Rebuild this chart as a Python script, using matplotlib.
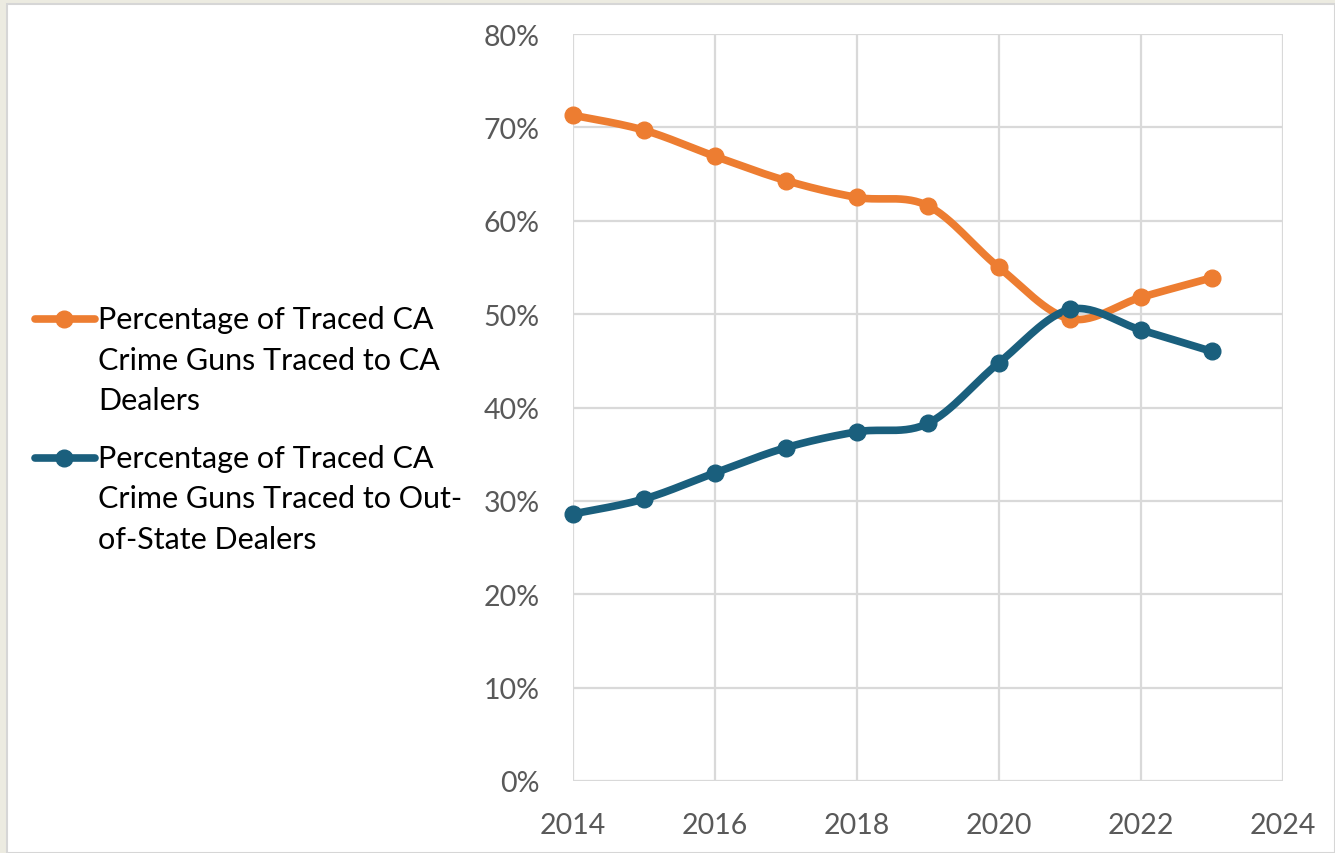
import numpy as np
import matplotlib
matplotlib.use("Agg")
import matplotlib.pyplot as plt
from matplotlib.lines import Line2D
from matplotlib.patches import Rectangle

years = [2014, 2015, 2016, 2017, 2018, 2019, 2020, 2021, 2022, 2023]
ca_dealers = [71.3, 69.7, 66.9, 64.3, 62.5, 61.6, 55.0, 49.5, 51.8, 53.9]
out_of_state = [28.6, 30.2, 33.0, 35.7, 37.4, 38.3, 44.8, 50.5, 48.3, 46.0]
series_labels = [["Percentage of Traced CA", "Crime Guns Traced to CA", "Dealers"],
                 ["Percentage of Traced CA", "Crime Guns Traced to Out-", "of-State Dealers"]]
x_ticks = [2014, 2016, 2018, 2020, 2022, 2024]
y_ticks = [0, 10, 20, 30, 40, 50, 60, 70, 80]

ORANGE = "#ED7D31"
BLUE = "#1A5F7D"
GRID = "#D9D9D9"
TICK = "#595959"
FONT = ["Lato", "DejaVu Sans"]

plt.rcParams['font.family'] = FONT


def smooth(xs, ys, n=30):
    xs = np.asarray(xs, float)
    ys = np.asarray(ys, float)
    px = np.concatenate([[xs[0]], xs, [xs[-1]]])
    py = np.concatenate([[ys[0]], ys, [ys[-1]]])
    ox, oy = [], []
    t = np.linspace(0, 1, n)
    for i in range(1, len(px) - 2):
        p0 = np.array([px[i], py[i]])
        p3 = np.array([px[i + 1], py[i + 1]])
        c1 = p0 + (np.array([px[i + 1], py[i + 1]]) - np.array([px[i - 1], py[i - 1]])) / 6
        c2 = p3 - (np.array([px[i + 2], py[i + 2]]) - np.array([px[i], py[i]])) / 6
        b = ((1 - t) ** 3)[:, None] * p0 + (3 * (1 - t) ** 2 * t)[:, None] * c1 \
            + (3 * (1 - t) * t ** 2)[:, None] * c2 + (t ** 3)[:, None] * p3
        ox.extend(b[:, 0])
        oy.extend(b[:, 1])
    return np.array(ox), np.array(oy)


fig = plt.figure(figsize=(13.35, 8.54), dpi=100)
fig.patch.set_facecolor("#ECEBE1")
fig.add_artist(Rectangle((7 / 1335, 0), 1 - 7 / 1335, 1 - 5 / 854, transform=fig.transFigure,
                         facecolor="white", edgecolor="#D6D6D6", linewidth=1.5, zorder=0))

ax = fig.add_axes([573 / 1335, 1 - 782 / 854, 710 / 1335, 747 / 854])
ax.set_xlim(2014, 2024)
ax.set_ylim(0, 80)
ax.set_xticks(x_ticks)
ax.set_yticks(y_ticks)
ax.set_xticklabels([str(v) for v in x_ticks])
ax.set_yticklabels([f"{v}%" for v in y_ticks])
ax.grid(True, color=GRID, linewidth=1.6)
ax.set_axisbelow(True)
for s in ax.spines.values():
    s.set_visible(False)
ax.tick_params(length=0, labelsize=20.5, colors=TICK)
ax.tick_params(axis='x', pad=22)
ax.tick_params(axis='y', pad=24)
ax.patch.set_alpha(0)

for vals, col in [(ca_dealers, ORANGE), (out_of_state, BLUE)]:
    sx, sy = smooth(years, vals)
    ax.plot(sx, sy, color=col, linewidth=5.5, solid_capstyle='round', zorder=3, clip_on=False)
    ax.plot(years, vals, 'o', color=col, markersize=12, zorder=4, clip_on=False)

# legend
for (col, lines, y0) in [(ORANGE, series_labels[0], 320), (BLUE, series_labels[1], 459)]:
    yf = 1 - y0 / 854
    fig.add_artist(Line2D([35 / 1335, 95 / 1335], [yf, yf], color=col, linewidth=5.5,
                          solid_capstyle='round', transform=fig.transFigure))
    fig.add_artist(Line2D([64 / 1335], [yf], marker='o', color=col, markersize=12,
                          transform=fig.transFigure))
    for k, line in enumerate(lines):
        fig.text(98 / 1335, 1 - (y0 + k * 40.5) / 854, line, ha='left', va='center',
                 fontsize=22, color="#000000")

fig.savefig("out.png", dpi=100)
